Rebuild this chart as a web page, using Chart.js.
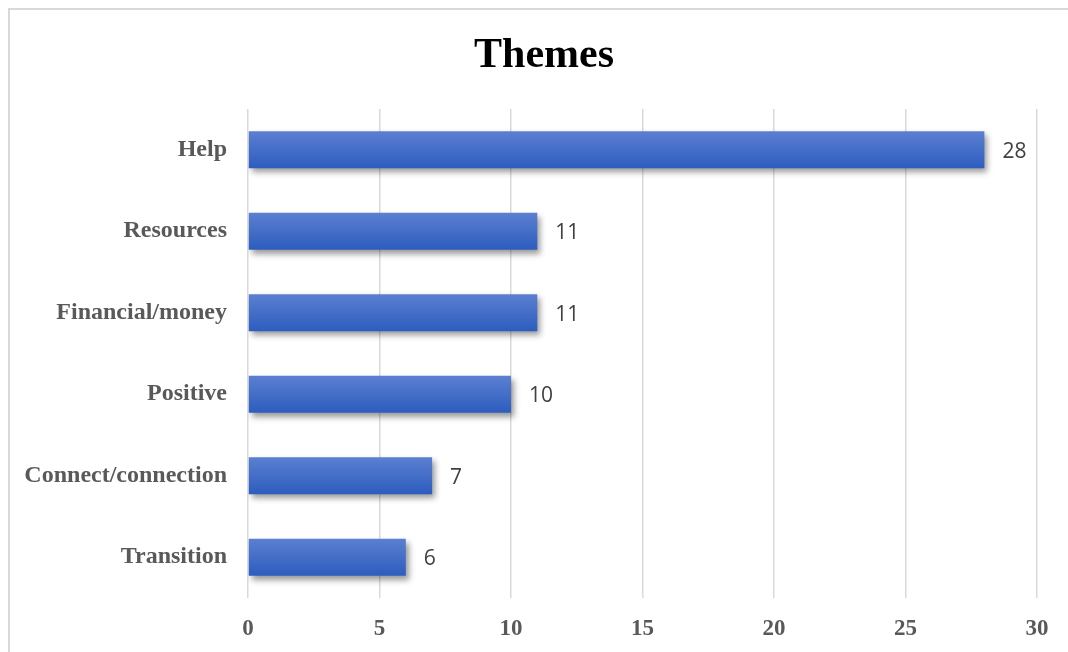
<!DOCTYPE html>
<html>
<head>
<meta charset="utf-8">
<script src="https://cdn.jsdelivr.net/npm/chart.js@4"></script>
<style>
  body { margin: 0; background: #fff; }
  #frame { position: absolute; left: 8px; top: 8px; width: 1200px; height: 800px;
           border-top: 2px solid #d9d9d9; border-left: 2px solid #d9d9d9; }
  #wrap { position: absolute; left: 0; top: 0; width: 1068px; height: 652px; }
</style>
</head>
<body>
<div id="frame"></div>
<div id="wrap"><canvas id="themesChart" width="1068" height="652"></canvas></div>
<script>
// Chart data
const chartTitle = 'Themes';
const themes = ['Help', 'Resources', 'Financial/money', 'Positive', 'Connect/connection', 'Transition'];
const counts = [28, 11, 11, 10, 7, 6];
const xTicks = [0, 5, 10, 15, 20, 25, 30];

const serif = '"Liberation Serif", "Times New Roman", serif';

// Title drawn a bit right of centre, like the original
const titlePlugin = {
    id: 'titlePlugin',
    afterDraw(chart) {
        const ctx = chart.ctx;
        ctx.save();
        ctx.font = 'bold 42px ' + serif;
        ctx.fillStyle = '#000';
        ctx.textAlign = 'center';
        ctx.textBaseline = 'middle';
        ctx.fillText(chartTitle, chart.width / 2 + 10, 56);
        ctx.restore();
    }
};

// Shadow under the bars
const barShadow = {
    id: 'barShadow',
    beforeDatasetDraw(chart) {
        const ctx = chart.ctx;
        ctx.save();
        ctx.shadowColor = 'rgba(0,0,0,0.4)';
        ctx.shadowBlur = 6;
        ctx.shadowOffsetX = 3;
        ctx.shadowOffsetY = 4;
    },
    afterDatasetDraw(chart) {
        chart.ctx.restore();
    }
};

// Value labels at the end of each bar
const valueLabels = {
    id: 'valueLabels',
    afterDatasetsDraw(chart) {
        const ctx = chart.ctx;
        const meta = chart.getDatasetMeta(0);
        ctx.save();
        ctx.font = '21px "Open Sans"';
        ctx.fillStyle = '#404040';
        ctx.textAlign = 'left';
        ctx.textBaseline = 'middle';
        meta.data.forEach((bar, i) => {
            ctx.fillText(String(counts[i]), bar.x + 18, bar.y + 2);
        });
        ctx.restore();
    }
};

function barGradient(context) {
    const chart = context.chart;
    const yScale = chart.scales.y;
    if (!yScale || !chart.chartArea) return '#4170c8';
    const yc = yScale.getPixelForValue(context.dataIndex);
    const g = chart.ctx.createLinearGradient(0, yc - 18, 0, yc + 18);
    g.addColorStop(0, '#5b7fd0');
    g.addColorStop(1, '#2d5dbf');
    return g;
}

const ctx = document.getElementById('themesChart').getContext('2d');
new Chart(ctx, {
    type: 'bar',
    data: {
        labels: themes,
        datasets: [{
            data: counts,
            backgroundColor: barGradient,
            borderWidth: 0,
            barPercentage: 0.455,
            categoryPercentage: 1
        }]
    },
    options: {
        indexAxis: 'y',
        responsive: false,
        animation: false,
        layout: { padding: { top: 109, right: 31, bottom: 0, left: 0 } },
        plugins: {
            legend: { display: false },
            tooltip: { enabled: false },
            title: { display: false }
        },
        scales: {
            x: {
                min: 0,
                max: 30,
                afterBuildTicks: (scale) => { scale.ticks = xTicks.map(v => ({ value: v })); },
                afterFit: (scale) => { scale.height = 54; },
                grid: { color: '#d9d9d9', lineWidth: 1.5, drawTicks: false },
                border: { display: false },
                ticks: {
                    color: '#595959',
                    padding: 17,
                    font: { family: serif, size: 23, weight: 'bold' }
                }
            },
            y: {
                afterFit: (scale) => { scale.width = 248; },
                grid: { display: false, drawTicks: false },
                border: { display: false },
                ticks: {
                    color: '#595959',
                    padding: 21,
                    font: { family: serif, size: 24, weight: 'bold' }
                }
            }
        }
    },
    plugins: [titlePlugin, barShadow, valueLabels]
});
</script>
</body>
</html>
